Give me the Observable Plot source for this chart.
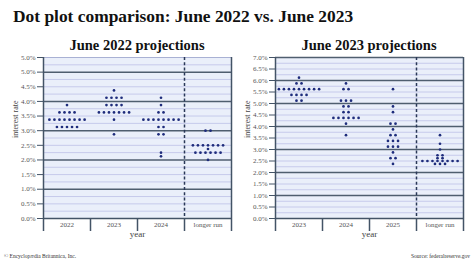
<!DOCTYPE html>
<html>
<head>
<meta charset="utf-8">
<script src="https://cdn.jsdelivr.net/npm/d3@7"></script>
<script src="https://cdn.jsdelivr.net/npm/@observablehq/plot@0.6"></script>
<style>
  html, body { margin: 0; padding: 0; background: #fff; }
  #wrap { position: relative; width: 474px; height: 266px; overflow: hidden; font-family: "Liberation Serif", serif; }
  .t { position: absolute; white-space: nowrap; line-height: 1; }
  #title { left: 13px; top: 8.4px; font-size: 17.4px; font-weight: bold; color: #111; }
  .ptitle { top: 37.6px; font-size: 14.5px; font-weight: bold; color: #111; transform: translateX(-50%); }
  .foot { top: 254px; font-size: 5.5px; color: #333; }
  .panel { position: absolute; top: 52px; }
</style>
</head>
<body>
<div id="wrap">
  <div id="title" class="t">Dot plot comparison: June 2022 vs. June 2023</div>
  <div class="t ptitle" style="left:137px">June 2022 projections</div>
  <div class="t ptitle" style="left:369px">June 2023 projections</div>
  <div id="p1" class="panel" style="left:0px"></div>
  <div id="p2" class="panel" style="left:237px"></div>
  <div class="t foot" style="left:4px">© Encyclopædia Britannica, Inc.</div>
  <div class="t foot" style="right:4px">Source: federalreserve.gov</div>
</div>
<script>
// ---- June 2022 projections ----
const cats2022 = ["2022", "2023", "2024", "longer run"];
const yLabels2022 = ["0.0%","0.5%","1.0%","1.5%","2.0%","2.5%","3.0%","3.5%","4.0%","4.5%","5.0%","5.0%"];
// [rate, number of participants]
const j22_2022 = [[3.875,1],[3.625,4],[3.375,8],[3.125,5]];
const j22_2023 = [[4.375,1],[4.125,4],[3.875,4],[3.625,7],[3.375,1],[2.875,1]];
const j22_2024 = [[4.125,1],[3.875,1],[3.625,2],[3.375,8],[3.125,2],[2.875,2],[2.25,1],[2.125,1]];
const j22_longer = [[3.0,2],[2.5,7],[2.375,1],[2.25,6],[2.0,1]];

// ---- June 2023 projections ----
const cats2023 = ["2023", "2024", "2025", "longer run"];
const yLabels2023 = ["0.0%","0.5%","1.0%","1.5%","2.0%","2.5%","3.0%","3.5%","4.0%","4.5%","5.0%","5.5%","6.0%","6.5%","7.0%"];
const j23_2023 = [[6.125,1],[5.875,2],[5.625,9],[5.375,4],[5.125,2]];
const j23_2024 = [[5.875,1],[5.625,2],[5.125,3],[4.875,2],[4.625,2],[4.375,6],[4.125,1],[3.625,1]];
const j23_2025 = [[5.625,1],[4.875,1],[4.625,1],[4.125,2],[3.875,1],[3.625,2],[3.375,3],[3.125,3],[2.875,1],[2.625,2],[2.375,1]];
const j23_longer = [[3.625,1],[3.25,1],[3.0,1],[2.75,2],[2.625,2],[2.5,8],[2.375,3]];

const DOT_STEP = 0.107; // spacing between dots in a row, in category units

function expand(columns) {
  const out = [];
  columns.forEach((rows, k) => rows.forEach(([rate, n]) => {
    for (let i = 0; i < n; i++) out.push({ pos: k + 0.5 + (i - (n - 1) / 2) * DOT_STEP, rate });
  }));
  return out;
}

function panel({ cats, columns, yMax, yLabels, marginLeft, marginRight }) {
  const dots = expand(columns);
  const majors = d3.range(0, yMax + 1e-9, 0.5);
  const whole = d3.range(1, yMax + 1e-9, 1);
  const minor = d3.range(0.25, yMax, 0.25).filter(v => Math.abs(v - Math.round(v)) > 1e-9);
  const dark = "#435366";
  return Plot.plot({
    width: 237, height: 200,
    marginTop: 5, marginBottom: 34, marginLeft, marginRight,
    style: { fontFamily: "Liberation Serif, serif", fontSize: "7px", color: "#555", background: "transparent", overflow: "visible" },
    x: { domain: [0, 4] },
    y: { domain: [0, yMax] },
    marks: [
      Plot.frame({ fill: "#eaeffa", stroke: null }),
      Plot.ruleY(minor, { stroke: "#c6caeb", strokeWidth: 1 }),
      Plot.ruleY([yMax], { stroke: "#a9b1d4", strokeWidth: 1 }),
      Plot.ruleY(whole, { stroke: "#4f5e6f", strokeWidth: 1.5 }),
      Plot.ruleX([3], { stroke: "#2a3858", strokeWidth: 1.5, strokeDasharray: "3,2.2" }),
      Plot.ruleX([0, 4], { stroke: dark, strokeWidth: 1.5 }),
      Plot.ruleY([0], { stroke: dark, strokeWidth: 1.5 }),
      Plot.axisY({ ticks: majors, tickFormat: d => yLabels[Math.round(d * 2)], tickSize: 6, tickPadding: 2, stroke: dark, label: null }),
      Plot.axisX({ ticks: [0, 1, 2, 3, 4], tickSize: 13, tickFormat: () => "", stroke: dark, strokeWidth: 1.5, label: null }),
      Plot.axisX({ ticks: [0.5, 1.5, 2.5, 3.5], tickSize: 0, tickPadding: 4, tickFormat: d => cats[Math.floor(d)], label: null }),
      Plot.text(["interest rate"], { text: d => d, frameAnchor: "left", dx: -28, rotate: -90, fontSize: 8, fill: "#444" }),
      Plot.text(["year"], { text: d => d, frameAnchor: "bottom", dy: 18, fontSize: 9, fill: "#444" }),
      Plot.dot(dots, { x: "pos", y: "rate", r: 1.35, fill: "#1e2c7c", stroke: null })
    ]
  });
}

document.getElementById("p1").append(panel({
  cats: cats2022, columns: [j22_2022, j22_2023, j22_2024, j22_longer],
  yMax: 5.5, yLabels: yLabels2022, marginLeft: 43, marginRight: 6
}));
document.getElementById("p2").append(panel({
  cats: cats2023, columns: [j23_2023, j23_2024, j23_2025, j23_longer],
  yMax: 7, yLabels: yLabels2023, marginLeft: 38, marginRight: 11
}));
</script>
</body>
</html>
